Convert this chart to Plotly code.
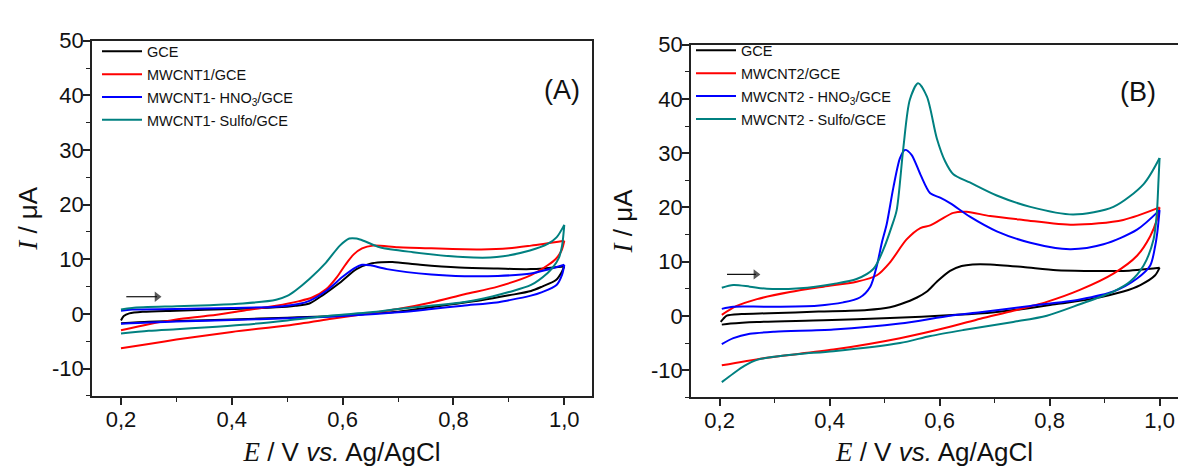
import plotly.graph_objects as go

# ---------------- Panel (A) data ----------------
A_GCE_fwd_E = [0.200, 0.205, 0.215, 0.240, 0.300, 0.400, 0.480, 0.515, 0.540, 0.565, 0.595, 0.625, 0.650, 0.670, 0.690, 0.740, 0.810, 0.880, 0.940, 1.000]
A_GCE_fwd_I = [-1.2, -0.4, 0.1, 0.4, 0.6, 0.9, 1.2, 1.5, 1.9, 3.5, 5.7, 8.2, 9.2, 9.45, 9.5, 9.0, 8.5, 8.3, 8.2, 8.7]
A_GCE_rev_E = [1.000, 0.995, 0.985, 0.960, 0.940, 0.900, 0.850, 0.800, 0.750, 0.700, 0.640, 0.600, 0.500, 0.400, 0.300, 0.250, 0.200]
A_GCE_rev_I = [8.7, 7.6, 6.2, 5.0, 4.2, 3.4, 2.5, 1.8, 1.1, 0.4, 0.0, -0.3, -0.7, -1.0, -1.3, -1.45, -1.7]

A_M1_fwd_E = [0.200, 0.250, 0.300, 0.360, 0.420, 0.480, 0.520, 0.545, 0.570, 0.590, 0.605, 0.620, 0.635, 0.655, 0.700, 0.760, 0.850, 0.900, 0.940, 1.000]
A_M1_fwd_I = [-3.0, -1.9, -1.0, -0.3, 0.6, 1.5, 2.3, 3.0, 4.5, 6.8, 9.0, 10.9, 12.0, 12.5, 12.2, 12.0, 11.8, 12.0, 12.5, 13.4]
A_M1_rev_E = [1.000, 0.995, 0.985, 0.970, 0.940, 0.880, 0.820, 0.760, 0.700, 0.640, 0.580, 0.500, 0.400, 0.300, 0.250, 0.200]
A_M1_rev_I = [13.4, 11.6, 10.1, 8.9, 7.1, 5.0, 3.6, 2.1, 0.9, 0.0, -0.9, -2.1, -3.3, -4.7, -5.5, -6.3]

A_HNO3_fwd_E = [0.200, 0.220, 0.300, 0.400, 0.480, 0.520, 0.540, 0.570, 0.600, 0.620, 0.635, 0.650, 0.680, 0.760, 0.820, 0.880, 0.940, 1.000]
A_HNO3_fwd_I = [0.6, 0.8, 0.9, 1.1, 1.3, 1.8, 2.4, 4.2, 6.8, 8.3, 9.0, 8.9, 8.2, 7.2, 6.9, 6.95, 7.4, 9.0]
A_HNO3_rev_E = [1.000, 0.996, 0.986, 0.960, 0.938, 0.900, 0.878, 0.817, 0.760, 0.700, 0.600, 0.500, 0.400, 0.300, 0.250, 0.200]
A_HNO3_rev_I = [9.0, 7.2, 5.3, 4.0, 3.3, 2.5, 2.1, 1.5, 0.9, 0.3, -0.4, -0.8, -1.1, -1.4, -1.55, -1.8]

A_SULF_fwd_E = [0.200, 0.220, 0.300, 0.360, 0.420, 0.480, 0.500, 0.515, 0.540, 0.570, 0.595, 0.612, 0.625, 0.640, 0.667, 0.727, 0.817, 0.878, 0.938, 0.970, 0.986, 1.000]
A_SULF_fwd_I = [0.8, 1.1, 1.4, 1.6, 1.9, 2.6, 3.3, 4.3, 6.4, 9.4, 12.5, 13.8, 13.8, 13.3, 12.2, 11.3, 10.4, 10.4, 11.6, 12.8, 14.0, 16.3]
A_SULF_rev_E = [1.000, 0.996, 0.990, 0.980, 0.970, 0.940, 0.900, 0.870, 0.820, 0.750, 0.700, 0.650, 0.580, 0.500, 0.420, 0.350, 0.300, 0.250, 0.200]
A_SULF_rev_I = [16.3, 12.5, 10.2, 8.6, 7.5, 5.3, 4.0, 3.2, 2.2, 1.4, 0.9, 0.3, -0.3, -1.2, -2.0, -2.5, -2.8, -3.1, -3.6]

# ---------------- Panel (B) data ----------------
B_GCE_fwd_E = [0.202, 0.207, 0.213, 0.240, 0.290, 0.380, 0.468, 0.510, 0.530, 0.559, 0.577, 0.595, 0.619, 0.640, 0.660, 0.692, 0.752, 0.813, 0.874, 0.934, 1.000]
B_GCE_fwd_I = [-1.1, -0.5, 0.05, 0.35, 0.5, 0.8, 1.1, 1.6, 2.2, 3.4, 4.5, 6.3, 8.3, 9.2, 9.5, 9.5, 9.0, 8.4, 8.3, 8.3, 8.9]
B_GCE_rev_E = [1.000, 0.992, 0.965, 0.934, 0.874, 0.813, 0.752, 0.700, 0.631, 0.510, 0.389, 0.268, 0.220, 0.204]
B_GCE_rev_I = [8.9, 7.5, 5.7, 4.5, 3.1, 2.2, 1.3, 0.7, 0.2, -0.4, -0.8, -1.1, -1.4, -1.6]

B_M2_fwd_E = [0.204, 0.230, 0.268, 0.328, 0.389, 0.449, 0.486, 0.510, 0.540, 0.565, 0.583, 0.601, 0.625, 0.649, 0.692, 0.752, 0.843, 0.934, 1.000]
B_M2_fwd_I = [0.2, 1.8, 3.1, 4.4, 5.4, 6.3, 7.5, 9.9, 14.1, 16.2, 16.7, 17.7, 19.0, 19.2, 18.4, 17.7, 16.8, 17.7, 20.0]
B_M2_rev_E = [1.000, 0.995, 0.983, 0.959, 0.916, 0.855, 0.795, 0.734, 0.674, 0.619, 0.528, 0.407, 0.286, 0.204]
B_M2_rev_I = [20.0, 17.7, 14.7, 11.1, 7.8, 4.8, 2.6, 0.95, -0.5, -2.0, -4.1, -6.2, -7.7, -9.1]

B_HNO3_fwd_E = [0.204, 0.225, 0.286, 0.377, 0.425, 0.455, 0.474, 0.486, 0.495, 0.504, 0.516, 0.528, 0.537, 0.549, 0.565, 0.583, 0.601, 0.619, 0.655, 0.704, 0.765, 0.837, 0.898, 0.959, 1.000]
B_HNO3_fwd_I = [1.3, 1.7, 1.7, 1.9, 2.5, 3.4, 5.4, 9.3, 13.5, 17.0, 23.7, 29.1, 30.6, 29.7, 26.1, 22.6, 21.8, 20.8, 18.3, 15.6, 13.5, 12.3, 13.2, 15.9, 19.5]
B_HNO3_rev_E = [1.000, 0.996, 0.992, 0.983, 0.959, 0.916, 0.855, 0.765, 0.674, 0.619, 0.528, 0.407, 0.300, 0.255, 0.225, 0.204]
B_HNO3_rev_I = [19.5, 15.5, 12.9, 9.3, 6.9, 4.5, 3.05, 1.85, 0.7, 0.05, -1.4, -2.5, -2.9, -3.3, -4.1, -5.2]

B_SULF_fwd_E = [0.204, 0.225, 0.255, 0.286, 0.346, 0.407, 0.449, 0.480, 0.498, 0.513, 0.522, 0.534, 0.546, 0.561, 0.577, 0.595, 0.610, 0.625, 0.655, 0.704, 0.765, 0.843, 0.916, 0.971, 1.000]
B_SULF_fwd_I = [5.2, 5.7, 5.4, 5.0, 5.1, 5.9, 6.8, 8.7, 12.3, 16.5, 19.5, 30.9, 39.9, 42.9, 40.4, 32.7, 28.5, 26.1, 24.6, 22.2, 20.1, 18.7, 20.1, 24.3, 29.1]
B_SULF_rev_E = [1.000, 0.998, 0.995, 0.989, 0.971, 0.946, 0.916, 0.855, 0.795, 0.734, 0.643, 0.583, 0.528, 0.407, 0.346, 0.300, 0.268, 0.245, 0.225, 0.204]
B_SULF_rev_I = [29.1, 24.9, 18.9, 14.1, 9.3, 6.3, 4.5, 2.15, 0.05, -1.1, -2.6, -3.7, -5.0, -6.5, -7.0, -7.5, -8.1, -9.2, -10.6, -12.2]

# names, tick labels
A_names = ["GCE", "MWCNT1/GCE", "MWCNT1- HNO<sub>3</sub>/GCE", "MWCNT1- Sulfo/GCE"]
B_names = ["GCE", "MWCNT2/GCE", "MWCNT2 - HNO<sub>3</sub>/GCE", "MWCNT2 - Sulfo/GCE"]
x_tickvals = [0.2, 0.4, 0.6, 0.8, 1.0]
x_ticktext = ["0,2", "0,4", "0,6", "0,8", "1,0"]
y_tickvals = [-10, 0, 10, 20, 30, 40, 50]
y_ticktext = ["-10", "0", "10", "20", "30", "40", "50"]

# scan-direction arrows (start E, end E, I)
arrowA_E = [0.2096, 0.265]
arrowA_I = [3.15, 3.15]
arrowB_E = [0.2135, 0.266]
arrowB_I = [7.66, 7.66]

COLORS = ["#000000", "#ff0000", "#0000ff", "#008080"]

A_curves = [
    (A_GCE_fwd_E, A_GCE_fwd_I, A_GCE_rev_E, A_GCE_rev_I),
    (A_M1_fwd_E, A_M1_fwd_I, A_M1_rev_E, A_M1_rev_I),
    (A_HNO3_fwd_E, A_HNO3_fwd_I, A_HNO3_rev_E, A_HNO3_rev_I),
    (A_SULF_fwd_E, A_SULF_fwd_I, A_SULF_rev_E, A_SULF_rev_I),
]
B_curves = [
    (B_GCE_fwd_E, B_GCE_fwd_I, B_GCE_rev_E, B_GCE_rev_I),
    (B_M2_fwd_E, B_M2_fwd_I, B_M2_rev_E, B_M2_rev_I),
    (B_HNO3_fwd_E, B_HNO3_fwd_I, B_HNO3_rev_E, B_HNO3_rev_I),
    (B_SULF_fwd_E, B_SULF_fwd_I, B_SULF_rev_E, B_SULF_rev_I),
]

fig = go.Figure()

def add_panel(curves, names, xa, ya, leg, tag):
    for k, (fe, fi, re_, ri) in enumerate(curves):
        grp = f"{tag}{k}"
        ln = dict(color=COLORS[k], width=2, shape="spline", smoothing=0.8)
        fig.add_trace(go.Scatter(x=fe, y=fi, mode="lines", line=ln, name=names[k],
                                 legendgroup=grp, legend=leg, xaxis=xa, yaxis=ya,
                                 hoverinfo="skip"))
        fig.add_trace(go.Scatter(x=re_, y=ri, mode="lines", line=ln, name=names[k],
                                 legendgroup=grp, legend=leg, xaxis=xa, yaxis=ya,
                                 showlegend=False, hoverinfo="skip"))

add_panel(A_curves, A_names, "x", "y", "legend", "a")
add_panel(B_curves, B_names, "x2", "y2", "legend2", "b")

def add_arrow(ex, iy, xa, ya):
    fig.add_trace(go.Scatter(x=ex, y=iy, mode="lines+markers", xaxis=xa, yaxis=ya,
                             line=dict(color="#111", width=1.2),
                             marker=dict(symbol=["circle", "triangle-right"], size=[0, 9],
                                         color="#111", line=dict(width=0)),
                             showlegend=False, hoverinfo="skip"))

add_arrow(arrowA_E, arrowA_I, "x", "y")
add_arrow(arrowB_E, arrowB_I, "x2", "y2")

W, H = 1178, 467
tickfont = dict(family="Arial, Liberation Sans, sans-serif", size=22, color="#111")
titlefont = dict(family="Arial, Liberation Sans, sans-serif", size=26, color="#111")
serif = "font-family:'Liberation Serif','Times New Roman',serif;font-size:27px"
xtitle = f"<span style=\"{serif}\"><i>E</i></span> / V <i>vs.</i> Ag/AgCl"
ytitle = f"<span style=\"{serif}\"><i>I</i></span> / μA"

def xaxis_cfg(domain, rng, mirror):
    return dict(domain=domain, range=rng, showgrid=False, zeroline=False,
                showline=True, linecolor="#222", linewidth=1.5, mirror=mirror,
                ticks="outside", ticklen=7, tickwidth=1.5, tickcolor="#222",
                tickvals=x_tickvals, ticktext=x_ticktext, tickfont=tickfont,
                ticklabelstandoff=-4,
                minor=dict(ticks="outside", ticklen=4, tickwidth=1.2, tickcolor="#222",
                           dtick=0.1, tick0=0.2, showgrid=False),
                title=dict(text=xtitle, font=titlefont, standoff=12))

def yaxis_cfg(domain, mirror, standoff):
    return dict(domain=domain, range=[-15, 50], showgrid=False, zeroline=False,
                showline=True, linecolor="#222", linewidth=1.5, mirror=mirror,
                ticks="outside", ticklen=7, tickwidth=1.5, tickcolor="#222",
                tickvals=y_tickvals, ticktext=y_ticktext, tickfont=tickfont,
                ticklabelstandoff=-5,
                minor=dict(ticks="outside", ticklen=4, tickwidth=1.2, tickcolor="#222",
                           dtick=5, tick0=0, showgrid=False),
                title=dict(text=ytitle, font=titlefont, standoff=standoff))

legfont = dict(family="Arial, Liberation Sans, sans-serif", size=14.5, color="#111")

fig.update_layout(
    width=W, height=H, margin=dict(l=0, r=0, t=0, b=0),
    paper_bgcolor="white", plot_bgcolor="white",
    xaxis=dict(**xaxis_cfg([92 / W, 592 / W], [0.1477, 1.050], True), anchor="y"),
    yaxis=dict(**yaxis_cfg([(H - 394) / H, (H - 29.5) / H], True, 7), anchor="x"),
    xaxis2=dict(**xaxis_cfg([691 / W, 1.0], [0.148, 1.0335], True), anchor="y2"),
    yaxis2=dict(**yaxis_cfg([(H - 395.5) / H, (H - 33.5) / H], False, 11), anchor="x2"),
    legend=dict(x=97 / W, y=(H - 24) / H, xanchor="left", yanchor="top",
                bgcolor="rgba(0,0,0,0)", font=legfont, tracegroupgap=1, itemwidth=40),
    legend2=dict(x=691 / W, y=(H - 23) / H, xanchor="left", yanchor="top",
                 bgcolor="rgba(0,0,0,0)", font=legfont, tracegroupgap=1, itemwidth=40),
    showlegend=True,
)

# panel labels
fig.add_annotation(text="(A)", x=562 / W, y=(H - 63) / H, xref="paper", yref="paper",
                   showarrow=False, font=dict(family="Arial, Liberation Sans, sans-serif", size=27, color="#111"))
fig.add_annotation(text="(B)", x=1158 / W, y=(H - 65) / H, xref="paper", yref="paper",
                   showarrow=False, font=dict(family="Arial, Liberation Sans, sans-serif", size=27, color="#111"))

fig.write_html("out.html")
